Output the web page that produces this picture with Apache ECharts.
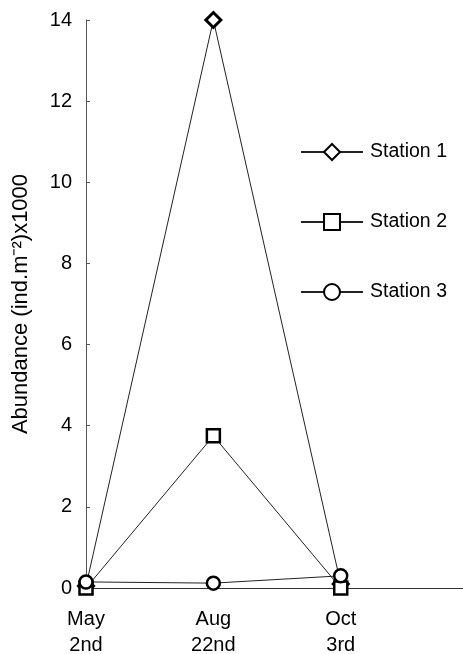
<!DOCTYPE html>
<html><head><meta charset="utf-8">
<script src="https://cdn.jsdelivr.net/npm/echarts@6/dist/echarts.min.js"></script>
<style>html,body{margin:0;padding:0;background:#fff}#c{width:463px;height:654px}</style>
</head><body><div id="c"></div>
<script>
var categories = ['May\n2nd', 'Aug\n22nd', 'Oct\n3rd'];
var station1 = [0.05, 14, 0.1];
var station2 = [0, 3.75, 0];
var station3 = [0.15, 0.12, 0.3];
var yTicks = [0, 2, 4, 6, 8, 10, 12, 14];

function toXY(arr){ return arr.map(function(v,i){ return [i, v]; }); }
var font = 'Liberation Sans, Arial, sans-serif';
var chart = echarts.init(document.getElementById('c'));
chart.setOption({
  animation: false,
  backgroundColor: '#fff',
  grid: { left: 86, right: 0, top: 20, bottom: 66, outerBoundsMode: 'none', containLabel: false },
  legend: {
    orient: 'vertical', left: 300, top: 142, padding: 0, itemWidth: 62, itemHeight: 20, itemGap: 50,
    textStyle: { fontFamily: font, fontSize: 19.5, color: '#000', padding: [0, 0, 0, 2] },
    data: ['Station 1', 'Station 2', 'Station 3']
  },
  xAxis: {
    type: 'value', min: 0, max: 2.96, interval: 1,
    splitLine: { show: false },
    axisLine: { lineStyle: { color: '#333', width: 1 } },
    axisTick: { show: false },
    axisLabel: {
      showMaxLabel: false, margin: 18, lineHeight: 26,
      fontFamily: font, fontSize: 20, color: '#000',
      formatter: function(v){ return Number.isInteger(v) && categories[v] ? categories[v] : ''; }
    }
  },
  yAxis: {
    type: 'value', min: 0, max: 14, interval: 2,
    splitLine: { show: false },
    axisLine: { show: true, lineStyle: { color: '#555', width: 1 } },
    axisTick: { show: true, inside: true, length: 4, lineStyle: { color: '#555' } },
    axisLabel: { margin: 14, fontFamily: font, fontSize: 20, color: '#000',
      formatter: function(v){ return yTicks.indexOf(v) >= 0 ? String(v) : ''; } },
    name: 'Abundance (ind.m\u207B\u00B2)x1000', nameLocation: 'middle', nameGap: 54,
    nameTextStyle: { fontFamily: font, fontSize: 22, color: '#000' }
  },
  series: [
    { name: 'Station 1', type: 'line', data: toXY(station1), symbol: 'diamond', symbolSize: 15,
      lineStyle: { color: '#222', width: 1 },
      itemStyle: { color: '#fff', borderColor: '#000', borderWidth: 3 } },
    { name: 'Station 2', type: 'line', data: toXY(station2), symbol: 'rect', symbolSize: 13,
      lineStyle: { color: '#222', width: 1 },
      itemStyle: { color: '#fff', borderColor: '#000', borderWidth: 2.5 } },
    { name: 'Station 3', type: 'line', data: toXY(station3), symbol: 'circle', symbolSize: 13,
      lineStyle: { color: '#222', width: 1 },
      itemStyle: { color: '#fff', borderColor: '#000', borderWidth: 2.5 } }
  ]
});
</script></body></html>
